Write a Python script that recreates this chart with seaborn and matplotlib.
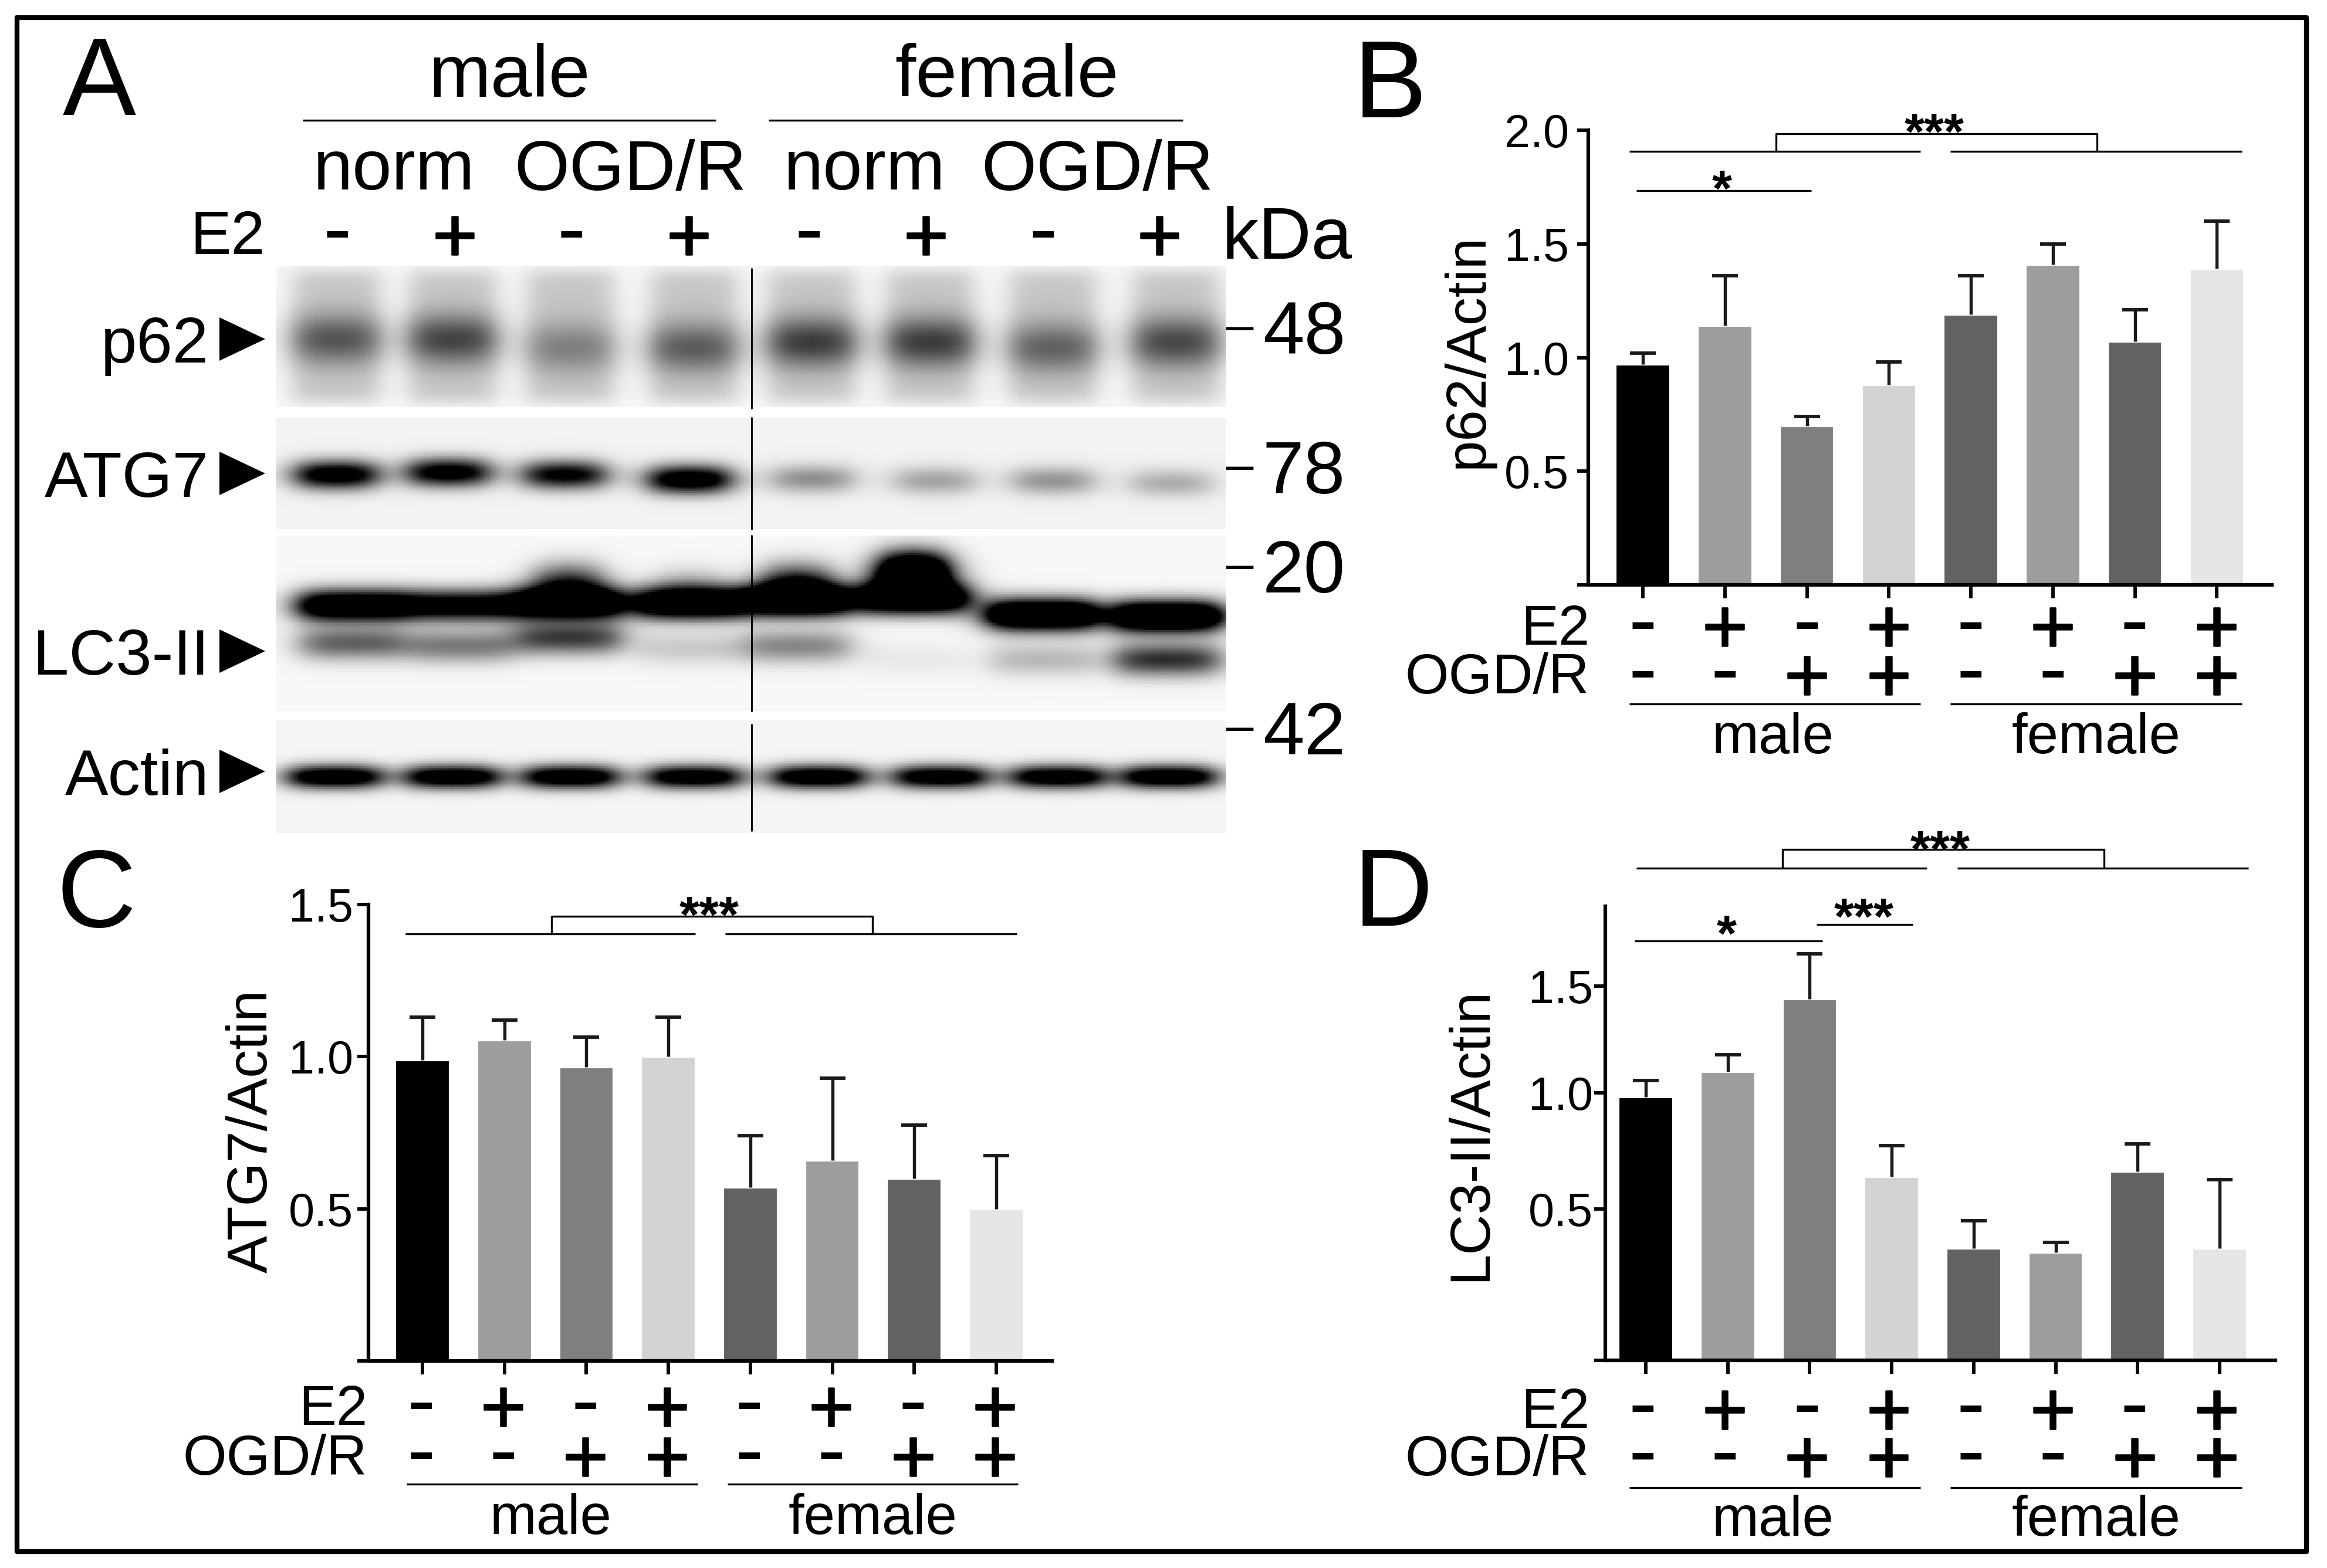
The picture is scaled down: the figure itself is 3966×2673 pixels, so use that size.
# Western blot strips (A) and three densitometry bar panels (B, C, D)
import numpy as np
import pandas as pd
import matplotlib
matplotlib.use('Agg')
import matplotlib.pyplot as plt
import matplotlib.patheffects as pe
import seaborn as sns

#-----------------------------------------------------------------#
# Values

groups = ['m1', 'm2', 'm3', 'm4', 'f1', 'f2', 'f3', 'f4']
bar_colors = ['#000000', '#9d9d9d', '#7f7f7f', '#d3d3d3',
              '#626262', '#9d9d9d', '#626262', '#e6e6e6']
e2_signs = ['-', '+', '-', '+', '-', '+', '-', '+']
ogd_signs = ['-', '-', '+', '+', '-', '-', '+', '+']

p62_values = [0.97, 1.14, 0.70, 0.88, 1.19, 1.41, 1.07, 1.39]
p62_upper = [1.02, 1.36, 0.74, 0.98, 1.36, 1.50, 1.21, 1.60]
atg7_values = [0.99, 1.055, 0.965, 1.00, 0.57, 0.66, 0.60, 0.50]
atg7_upper = [1.13, 1.12, 1.065, 1.13, 0.74, 0.93, 0.775, 0.675]
lc3_values = [0.98, 1.095, 1.437, 0.634, 0.349, 0.333, 0.655, 0.349]
lc3_upper = [1.055, 1.173, 1.66, 0.766, 0.455, 0.371, 0.773, 0.622]

# Blot band darkness per lane
p62_density = [0.45, 0.52, 0.28, 0.42, 0.55, 0.55, 0.40, 0.50]
atg7_density = [1.2, 1.15, 1.05, 1.25, 0.40, 0.32, 0.38, 0.28]
lc3_main_density = [1.5, 1.2, 1.6, 1.5, 1.6, 1.6, 1.8, 1.8]
lc3_low_density = [0.60, 0.50, 0.75, 0.18, 0.45, 0.06, 0.25, 0.80]
lc3_bump_density = [0.0, 0.0, 0.8, 0.3, 0.9, 2.0, 0.0, 0.0]
actin_density = [1.3, 1.3, 1.3, 1.25, 1.3, 1.25, 1.25, 1.3]

# Blot lane and band positions, in picture pixels
p62_lane_x = [572, 770, 971, 1181, 1382, 1584, 1793, 2003]
p62_band_y = [578, 578, 592, 592, 583, 583, 592, 583]
atg7_lane_x = [572, 763, 961, 1174, 1383, 1592, 1793, 1995]
atg7_band_y = [809, 805, 809, 817, 816, 819, 819, 823]
lc3_lane_x = [601, 785, 968, 1174, 1357, 1555, 1775, 1988]
lc3_main_y = [1031, 1031, 1027, 1027, 1022, 1018, 1047, 1050]
lc3_low_y = [1096, 1101, 1087, 1105, 1101, 1124, 1124, 1124]
lc3_bump_y = [994, 994, 994, 1004, 994, 975, 994, 994]
actin_lane_x = [569, 770, 971, 1181, 1394, 1602, 1802, 1991]
actin_band_y = [1323] * 8

#-----------------------------------------------------------------#
# Figure set up

W, H = 3966, 2673
sns.set_theme(style='ticks')
plt.rcParams['font.family'] = ['Liberation Sans', 'DejaVu Sans']
plt.rcParams['text.color'] = 'black'
plt.rcParams['axes.labelcolor'] = 'black'
fig = plt.figure(figsize=(W / 300, H / 300), dpi=300, facecolor='white')

PX_PER_PT = 300 / 72


def px_axes(left, top, right, bottom):
    return fig.add_axes([left / W, 1 - bottom / H, (right - left) / W, (bottom - top) / H])


# Overlay in picture pixels for labels and brackets
over = fig.add_axes([0, 0, 1, 1], zorder=10)
over.set_xlim(0, W)
over.set_ylim(H, 0)
over.axis('off')
over.patch.set_alpha(0)


def label(x, y, s, size, ha='center', rotation=0):
    # y is the middle of the capitals
    over.text(x, y + 0.358 * size * PX_PER_PT, s, fontsize=size, ha=ha, va='baseline',
              rotation=rotation)


def stars(x, y, s, size=21):
    over.text(x, y - 10 + 0.6 * size * PX_PER_PT, s, fontsize=size, ha='center', va='baseline',
              fontweight='bold')


def sign(x, y, s):
    if s == '+':
        # Regular plus with a thin stroke, the bold one is too heavy
        t = over.text(x, y + 0.36 * 32 * PX_PER_PT, s, fontsize=32, ha='center', va='baseline')
        t.set_path_effects([pe.withStroke(linewidth=0.6, foreground='black')])
    else:
        over.text(x, y + 0.277 * 35 * PX_PER_PT, s, fontsize=35, ha='center', va='baseline')


def hline(x0, x1, y, lw=0.8):
    over.plot([x0, x1], [y, y], color='black', lw=lw, solid_capstyle='butt')


#-----------------------------------------------------------------#
# Panel A: blot strips, drawn as grey heatmaps


def band(xx, yy, cx, cy, half_w, sigma):
    edge = 17.0
    box = 1 / (1 + np.exp((np.abs(xx - cx) - half_w) / edge))
    return box * np.exp(-0.5 * ((yy - cy) / sigma) ** 2)


def strip(top, bottom, bands, background=0.97, smear=None):
    xs = np.arange(470, 2090, 3.0)
    ys = np.arange(top, bottom, 3.0)
    xx, yy = np.meshgrid(xs, ys)
    img = np.full(xx.shape, background)
    if smear is not None:
        for cx in smear:
            box_x = 1 / (1 + np.exp((np.abs(xx - cx) - 73) / 12))
            box_y = 1 / (1 + np.exp((np.abs(yy - 573) - 112) / 8))
            img -= 0.20 * box_x * box_y
    for lane_x, band_y, density, half_w, sigma in bands:
        for cx, cy, d in zip(lane_x, band_y, density):
            img -= d * band(xx, yy, cx, cy, half_w, sigma)
    ax = px_axes(470, top, 2090, bottom)
    sns.heatmap(np.clip(img, 0, 1), cmap='gray', vmin=0, vmax=1, cbar=False,
                xticklabels=False, yticklabels=False, ax=ax)
    return ax


strip(453, 694, [(p62_lane_x, p62_band_y, p62_density, 73, 30)], smear=p62_lane_x)
strip(712, 902, [(atg7_lane_x, atg7_band_y, atg7_density, 66, 17)], background=0.95)
strip(913, 1212, [(lc3_lane_x, lc3_main_y, lc3_main_density, 92, 19),
                  (lc3_lane_x, lc3_low_y, lc3_low_density, 88, 20),
                  (lc3_lane_x, lc3_bump_y, lc3_bump_density, 55, 25)])
strip(1228, 1420, [(actin_lane_x, actin_band_y, actin_density, 76, 14)], background=0.96)

# Splice lines between male and female lanes
for y0, y1 in [(458, 696), (712, 902), (913, 1212), (1235, 1416)]:
    over.plot([1281, 1281], [y0, y1], color='black', lw=0.7)

label(169, 129, 'A', 45)
label(868, 120, 'male', 30.5)
label(1716, 120, 'female', 30.5)
hline(516, 1220, 205)
hline(1310, 2016, 205)
for x, s in zip([672, 1074, 1474, 1870], ['norm', 'OGD/R', 'norm', 'OGD/R']):
    label(x, 280, s, 29)
label(452, 396, 'E2', 25, ha='right')
label(2083, 396, 'kDa', 30, ha='left')
a_sign_x = [575, 775, 974, 1174, 1379, 1578, 1778, 1976]
for x, s in zip(a_sign_x, e2_signs):
    sign(x, 398, s)

for name, y in zip(['p62', 'ATG7', 'LC3-II', 'Actin'], [578, 807, 1110, 1315]):
    label(356, y, name, 26.5, ha='right')
    over.fill([374, 374, 452], [y - 37, y + 37, y], color='black', lw=0)
for s, y in zip(['48', '78', '20', '42'], [558, 796, 965, 1241]):
    label(2152, y, s, 30.5, ha='left')
    over.text(2113, y + 0.27 * 20 * PX_PER_PT, '\u2013', fontsize=20, ha='center', va='baseline')

#-----------------------------------------------------------------#
# Panels B, C, D: bar charts


def bar_panel(rect, values, upper, xlim, ymax, yticks, tick_pad, ylabel, ylabel_xy, power=None):
    ax = px_axes(*rect)
    df = pd.DataFrame({'group': groups, 'value': values})
    sns.barplot(data=df, x='group', y='value', hue='group', palette=bar_colors,
                dodge=False, width=0.67, saturation=1, legend=False, ax=ax)
    heights = np.array(values)
    errors = np.array(upper) - heights
    bars = ax.errorbar(range(8), heights, yerr=[np.zeros(8), errors], fmt='none',
                       ecolor='#1a1a1a', elinewidth=1.3, capsize=5.2, capthick=1.4)
    bars[1][0].set_visible(False)
    if power is not None:
        ax.set_yscale('function', functions=(lambda y: np.power(np.maximum(y, 0), power),
                                             lambda y: np.power(np.maximum(y, 0), 1 / power)))
        ax.minorticks_off()
    ax.set_xlim(*xlim)
    ax.set_ylim(0, ymax)
    ax.set_yticks([0] + yticks)
    ax.set_yticklabels([''] + [f'{t:.1f}' for t in yticks])
    ax.set_xticks(range(8))
    ax.set_xticklabels([])
    ax.set_xlabel('')
    ax.tick_params(axis='y', length=4.5, width=1.4, pad=tick_pad, labelsize=19, color='black',
                   labelcolor='black')
    ax.tick_params(axis='x', length=5.6, width=1.4, color='black')
    for t in ax.get_yticklabels():
        t.set_va('center_baseline')
    sns.despine(ax=ax)
    for side in ['left', 'bottom']:
        ax.spines[side].set_linewidth(1.5)
        ax.spines[side].set_color('black')
    ax.set_ylabel(ylabel, fontsize=23, va='center')
    ax.yaxis.set_label_coords(ylabel_xy[0], ylabel_xy[1], transform=over.transData)
    return ax


def sign_rows(x0, side_x, e2_y, ogd_y):
    # E2 and OGD/R rows, spaced like the bars
    for i in range(8):
        sign(x0 + i * 139.7, e2_y, e2_signs[i])
        sign(x0 + i * 139.7, ogd_y, ogd_signs[i])
    label(side_x, e2_y, 'E2', 23, ha='right')
    label(side_x, ogd_y, 'OGD/R', 23, ha='right')


def group_labels(male_x, female_x, y):
    label(male_x, y, 'male', 23)
    label(female_x, y, 'female', 23)


def top_bracket(x0, x1, x2, x3, bx0, bx1, line_y, top_y, star_x, star_y):
    hline(x0, x1, line_y)
    hline(x2, x3, line_y)
    over.plot([bx0, bx0, bx1, bx1], [line_y, top_y, top_y, line_y], color='black', lw=0.8)
    stars(star_x, star_y, '***')


# Panel B
bar_panel((2707, 222, 3872, 997), p62_values, p62_upper, (-0.666, 7.67), 2.0,
          [0.5, 1.0, 1.5, 2.0], 3.4, 'p62/Actin', (2502, 598))
label(2369, 133, 'B', 45)
sign_rows(2800, 2709, 1065, 1148)
hline(2777, 3273, 1200)
hline(3324, 3821, 1200)
group_labels(3022, 3573, 1250)
top_bracket(2777, 3273, 3324, 3821, 3027, 3574, 258, 228, 3297, 211)
hline(2789, 3087, 325)
stars(2935, 308, '*')

# Panel C
bar_panel((628, 1542, 1793, 2320), atg7_values, atg7_upper, (-0.659, 7.68), 1.5,
          [0.5, 1.0, 1.5], 1.7, 'ATG7/Actin', (430, 1928))
label(164, 1513, 'C', 45)
sign_rows(718, 626, 2395, 2480)
hline(693, 1189, 2530)
hline(1240, 1735, 2530)
group_labels(939, 1488, 2581)
top_bracket(691, 1185, 1236, 1733, 940, 1487, 1592, 1562, 1209, 1546)

# Panel D: tick spacing in the picture is not linear, so a power scale is used
bar_panel((2736, 1545, 3878, 2319), lc3_values, lc3_upper, (-0.494, 7.68), 1.897,
          [0.5, 1.0, 1.5], 0.5, 'LC3-II/Actin', (2507, 1933), power=0.825)
label(2374, 1511, 'D', 45)
sign_rows(2800, 2709, 2400, 2481)
hline(2777, 3273, 2536)
hline(3324, 3821, 2536)
group_labels(3022, 3573, 2584)
top_bracket(2789, 3284, 3336, 3832, 3038, 3586, 1480, 1448, 3307, 1434)
hline(2786, 3106, 1604)
stars(2943, 1578, '*')
hline(3096, 3260, 1576)
stars(3177, 1549, '***')

# Outer frame
over.plot([29, 3931, 3931, 29, 29], [30, 30, 2645, 2645, 30], color='black', lw=2)

fig.savefig('out.png', dpi=300)
plt.close(fig)
